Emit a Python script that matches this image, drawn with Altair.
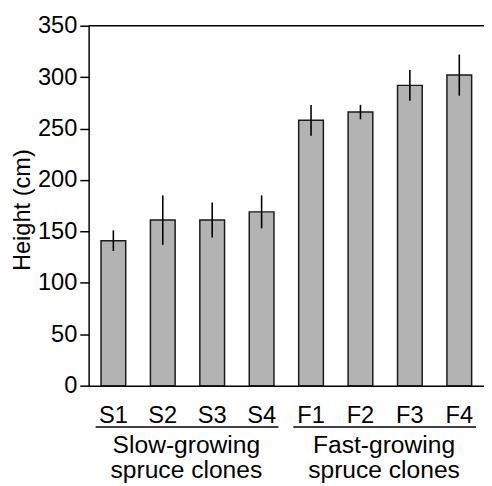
import altair as alt
import pandas as pd

clones = ["S1", "S2", "S3", "S4", "F1", "F2", "F3", "F4"]
heights = [141, 161, 161, 169, 258, 266, 292, 302]
errors = [10, 24, 17, 16, 15, 7, 15, 20]

group_labels = ["Slow-growing\nspruce clones", "Fast-growing\nspruce clones"]
group_first = ["S1", "F1"]
group_last = ["S4", "F4"]
group_mid = ["S2", "F2"]
y_ticks = [0, 50, 100, 150, 200, 250, 300, 350]

df = pd.DataFrame({"clone": clones, "height": heights, "err": errors})
df["lo"] = df["height"] - df["err"]
df["hi"] = df["height"] + df["err"]

groups = pd.DataFrame({"label": group_labels, "first": group_first,
                       "last": group_last, "mid": group_mid})

FONT = "Liberation Sans"
W, H = 402, 366

xscale = alt.Scale(domain=clones, paddingInner=0.5, paddingOuter=0.25)
yscale = alt.Scale(domain=[0, 350], nice=False)

base = alt.Chart(df)

bars = base.mark_bar(fill="#b3b3b3", stroke="#1a1a1a", strokeWidth=1.5).encode(
    x=alt.X("clone:N", scale=xscale, sort=clones,
            axis=alt.Axis(title=None, labelAngle=0, ticks=False, labelPadding=18,
                          labelFontSize=24, labelFont=FONT, labelColor="black",
                          domainColor="black", domainWidth=1.5, labelBaseline="top")),
    y=alt.Y("height:Q", scale=yscale,
            axis=alt.Axis(title="Height (cm)", values=y_ticks, grid=False,
                          tickSize=9, tickColor="black", tickWidth=1.5,
                          domainColor="black", domainWidth=1.5,
                          labelFontSize=24, labelFont=FONT, labelColor="black",
                          labelPadding=3,
                          titleFontSize=24, titleFont=FONT, titleColor="black",
                          titleFontWeight="normal", titleAngle=-90,
                          titleX=-67, titleY=187, titleAlign="center",
                          titleBaseline="middle")),
)

errs = base.mark_rule(color="black", strokeWidth=1.6).encode(
    x=alt.X("clone:N", scale=xscale, sort=clones),
    y=alt.Y("lo:Q", scale=yscale),
    y2="hi:Q",
)

top = alt.Chart(pd.DataFrame({"v": [350]})).mark_rule(color="black", strokeWidth=1.5).encode(
    y=alt.Y("v:Q", scale=yscale),
    x=alt.value(0),
    x2=alt.value("width"),
)

gchart = alt.Chart(groups)
glines = gchart.mark_rule(color="black", strokeWidth=1.5, xOffset=-18, x2Offset=17).encode(
    x=alt.X("first:N", scale=xscale, sort=clones),
    x2="last:N",
    y=alt.value(H + 42),
)

gtext = gchart.mark_text(font=FONT, fontSize=25, color="black", lineBreak="\n",
                         lineHeight=26, baseline="alphabetic", align="center",
                         xOffset=24).encode(
    x=alt.X("mid:N", scale=xscale, sort=clones),
    y=alt.value(H + 68),
    text="label:N",
)

chart = alt.layer(bars, errs, top, glines, gtext).properties(
    width=W, height=H,
    autosize=alt.AutoSizeParams(type="none"),
    padding={"left": 82, "top": 14, "right": 0, "bottom": 98},
).configure_view(stroke=None)

chart.save("out.html", embed_options={"renderer": "svg", "actions": False})
